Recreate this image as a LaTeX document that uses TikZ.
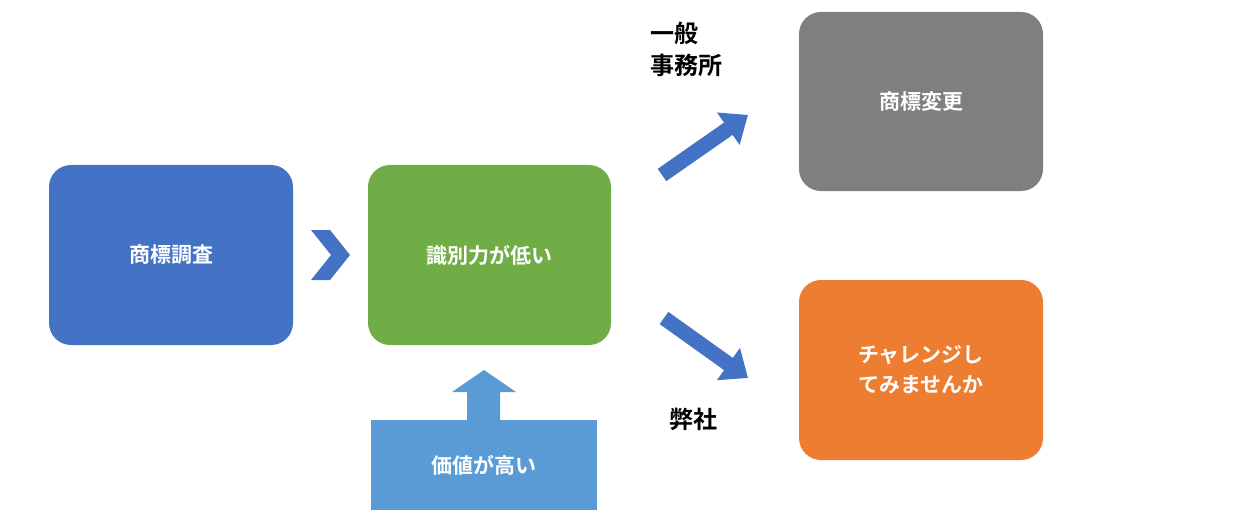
\documentclass[tikz,border=0pt]{standalone}
\usepackage{fontspec}
\newfontfamily\jp{Noto Sans CJK JP}[BoldFont={* Bold}]
\usetikzlibrary{arrows.meta}
\definecolor{cblue}{HTML}{4472C4}
\definecolor{cgreen}{HTML}{70AD47}
\definecolor{cgray}{HTML}{7F7F7F}
\definecolor{corange}{HTML}{ED7D31}
\definecolor{clight}{HTML}{5B9BD5}
\begin{document}
\begin{tikzpicture}[x=1pt,y=-1pt,
  box/.style={rounded corners=22pt,inner sep=0pt,text=white,font=\jp\bfseries\fontsize{21}{30}\selectfont,align=center},
  lab/.style={font=\jp\bfseries\fontsize{24}{32}\selectfont,align=left,inner sep=0pt},
  bigarrow/.style={cblue,line width=15pt,-{Triangle[length=24pt,width=38pt]}}]
\useasboundingbox (0,0) rectangle (1248,524);
\node[box,fill=cblue,minimum width=244pt,minimum height=180pt] (a) at (171,255) {商標調査};
\node[box,fill=cgreen,minimum width=243pt,minimum height=180pt] (b) at (489.5,255) {識別力が低い};
\node[box,fill=cgray,minimum width=244pt,minimum height=179pt] (c) at (921,101.5) {商標変更};
\node[box,fill=corange,minimum width=244pt,minimum height=180pt] (d) at (921,370) {チャレンジし\\てみませんか};
\node[fill=clight,inner sep=0pt,minimum width=226pt,minimum height=90pt,text=white,font=\jp\bfseries\fontsize{21}{30}\selectfont] (e) at (484,465) {価値が高い};
\fill[clight] (467,421) -- (467,392) -- (452,392) -- (484,370) -- (516,392) -- (500,392) -- (500,421) -- cycle;
\fill[cblue] (311,230) -- (330,230) -- (350,255) -- (330,280) -- (311,280) -- (331,255) -- cycle;
\coordinate (p1) at (662,175);
\coordinate (p2) at (748,115);
\coordinate (q1) at (664,318);
\coordinate (q2) at (748,378);
\draw[bigarrow] (p1) -- (p2);
\draw[bigarrow] (q1) -- (q2);
\node[lab,anchor=north west] (l1) at (650,22) {一般\\事務所};
\node[lab,anchor=west] (l2) at (669,419) {弊社};
\end{tikzpicture}
\end{document}
